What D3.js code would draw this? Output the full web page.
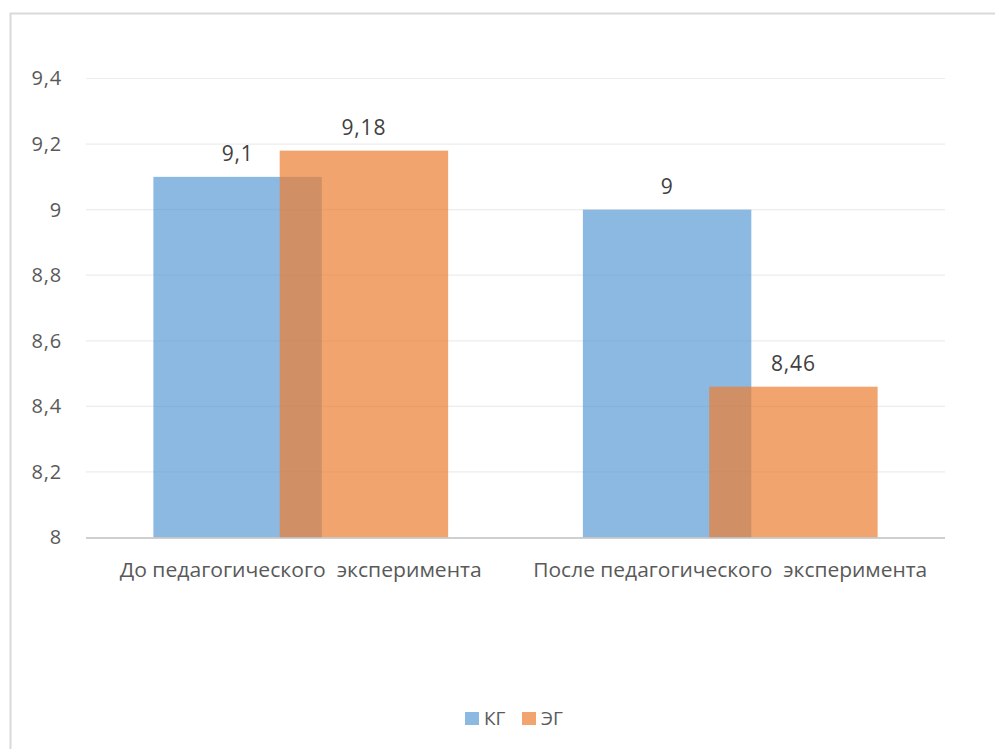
<!DOCTYPE html>
<html>
<head>
<meta charset="utf-8">
<script src="https://cdn.jsdelivr.net/npm/d3@7"></script>
<style>
  body { margin: 0; background: #fff; }
  text { font-family: "Open Sans", "Noto Sans", sans-serif; }
</style>
</head>
<body>
<svg id="chart"></svg>
<script>
// chart data
var categories = ["До педагогического  эксперимента", "После педагогического  эксперимента"];
var seriesNames = ["КГ", "ЭГ"];
var kgValues = [9.1, 9.0];
var egValues = [9.18, 8.46];
var yTicks = [8, 8.2, 8.4, 8.6, 8.8, 9, 9.2, 9.4];
var seriesColors = ["#5b9bd5", "#ed7d31"];

var screen = {width: 995, height: 749};
var plot = {left: 86, right: 945, top: 78.5, bottom: 537.5};

var svg = d3.select("#chart")
    .attr("width", screen.width)
    .attr("height", screen.height);

// outer frame (only top and left edges are visible)
svg.append("rect")
    .attr("x", 10.5)
    .attr("y", 13.5)
    .attr("width", 1000)
    .attr("height", 800)
    .attr("fill", "#fff")
    .attr("stroke", "#d9d9d9")
    .attr("stroke-width", 2);

var xScale = d3.scaleBand()
    .domain(categories)
    .range([plot.left, plot.right]);

var yScale = d3.scaleLinear()
    .domain([8, 9.4])
    .range([plot.bottom, plot.top]);

var fmt = function(v) { return String(+v.toFixed(2)).replace(".", ","); };

// gridlines
svg.append("g")
    .selectAll("line")
    .data(yTicks.slice(1))
    .enter()
    .append("line")
    .attr("x1", plot.left)
    .attr("x2", plot.right)
    .attr("y1", function(d) { return yScale(d); })
    .attr("y2", function(d) { return yScale(d); })
    .attr("stroke", "#ececec")
    .attr("stroke-width", 1.2);

// y axis labels
var yAxis = d3.axisLeft(yScale)
    .tickValues(yTicks)
    .tickFormat(fmt)
    .tickSize(0)
    .tickPadding(24);

var yg = svg.append("g")
    .attr("transform", "translate(" + plot.left + ",0)")
    .call(yAxis);
yg.select(".domain").remove();
yg.selectAll("text")
    .attr("fill", "#595959")
    .style("font-size", "20px")
    .style("letter-spacing", "0.8px");

// bars: overlap 25%, gap 80%
var barW = xScale.bandwidth() / 2.55;
var step = barW * 0.75;
var groupOffset = (xScale.bandwidth() - (barW + step)) / 2;

var allSeries = [kgValues, egValues];
allSeries.forEach(function(values, s) {
    var g = svg.append("g").classed("series", true);
    g.selectAll("rect")
        .data(values)
        .enter()
        .append("rect")
        .attr("x", function(d, i) { return xScale(categories[i]) + groupOffset + s * step; })
        .attr("y", function(d) { return yScale(d); })
        .attr("width", barW)
        .attr("height", function(d) { return yScale(8) - yScale(d); })
        .attr("fill", seriesColors[s])
        .attr("fill-opacity", 0.7);

    g.selectAll("text")
        .data(values)
        .enter()
        .append("text")
        .attr("x", function(d, i) { return xScale(categories[i]) + groupOffset + s * step + barW / 2; })
        .attr("y", function(d) { return yScale(d) - 16; })
        .attr("text-anchor", "middle")
        .attr("fill", "#404040")
        .style("font-size", "21px")
        .style("letter-spacing", "0.8px")
        .text(fmt);
});

// x axis line
svg.append("line")
    .attr("x1", plot.left)
    .attr("x2", plot.right)
    .attr("y1", plot.bottom + 0.5)
    .attr("y2", plot.bottom + 0.5)
    .attr("stroke", "#bfbfbf")
    .attr("stroke-width", 1.5);

// category labels
var catWidths = [362, 394];
svg.append("g")
    .selectAll("text")
    .data(categories)
    .enter()
    .append("text")
    .attr("x", function(d) { return xScale(d) + xScale.bandwidth() / 2; })
    .attr("y", 577)
    .attr("text-anchor", "middle")
    .attr("textLength", function(d, i) { return catWidths[i]; })
    .attr("lengthAdjust", "spacingAndGlyphs")
    .attr("fill", "#595959")
    .style("font-size", "20px")
    .style("white-space", "pre")
    .text(function(d) { return d; });

// legend
var legend = svg.append("g").attr("transform", "translate(465,712)");
var legendX = [0, 57];
seriesNames.forEach(function(name, i) {
    legend.append("rect")
        .attr("x", legendX[i])
        .attr("y", 0)
        .attr("width", 14)
        .attr("height", 13)
        .attr("fill", seriesColors[i])
        .attr("fill-opacity", 0.7);
    legend.append("text")
        .attr("x", legendX[i] + 19)
        .attr("y", 13)
        .attr("fill", "#595959")
        .style("font-size", "19px")
        .text(name);
});
</script>
</body>
</html>
